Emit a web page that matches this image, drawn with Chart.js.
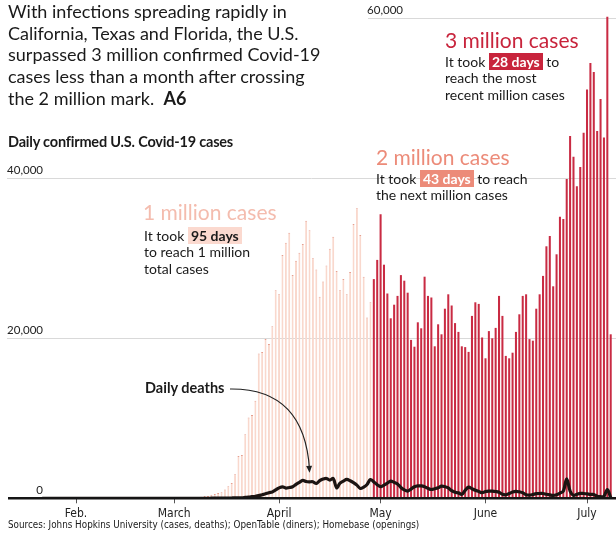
<!DOCTYPE html>
<html>
<head>
<meta charset="utf-8">
<script src="https://cdn.jsdelivr.net/npm/chart.js@4.4.1/dist/chart.umd.min.js"></script>
<style>
  body { margin: 0; background: #fff; font-family: Lato, 'Noto Sans', sans-serif; color: #1a1a1a; }
  #wrap { position: relative; width: 616px; height: 533px; overflow: hidden; }
  #chartBox { position: absolute; left: 0; top: 0; width: 616px; height: 533px; }
  .t { position: absolute; white-space: nowrap; z-index: 2; }
  .title { left: 8px; top: 1px; font-size: 18px; line-height: 21.7px; }
  .sub { left: 8px; top: 133px; font-size: 14.5px; line-height: 18px; font-weight: 700; letter-spacing: -0.2px; }
  .big { font-size: 21px; line-height: 22px; }
  .note { font-size: 14px; line-height: 16.4px; }
  .hl { font-weight: 700; padding: 0 3px; }
  .src { left: 8px; top: 518px; font-size: 11px; line-height: 14px; font-family: 'Liberation Sans Narrow', 'DejaVu Sans Condensed', sans-serif; transform: scaleX(0.89); transform-origin: left center; }
</style>
</head>
<body>
<div id="wrap">
  <div id="chartBox"><canvas id="chart"></canvas></div>

  <div class="t title">With infections spreading rapidly in<br>California, Texas and Florida, the U.S.<br>surpassed 3 million confirmed Covid-19<br>cases less than a month after crossing<br>the 2 million mark.&nbsp; <b>A6</b></div>
  <div class="t sub">Daily confirmed U.S. Covid-19 cases</div>

  <div class="t big" style="left:143px; top:201px; color:#f4bcae;">1 million cases</div>
  <div class="t note" style="left:144px; top:228px;">It took <span class="hl" style="background:#fbd9cf;">95 days</span><br>to reach 1 million<br>total cases</div>

  <div class="t big" style="left:376px; top:146px; color:#ec8b79;">2 million cases</div>
  <div class="t note" style="left:376px; top:171px;">It took <span class="hl" style="background:#ec8b79; color:#fff;">43 days</span> to reach<br>the next million cases</div>

  <div class="t big" style="left:445px; top:29px; color:#c8243c;">3 million cases</div>
  <div class="t note" style="left:445px; top:54px;">It took <span class="hl" style="background:#c8243c; color:#fff;">28 days</span> to<br>reach the most<br>recent million cases</div>

  <div class="t" style="left:145px; top:379px; font-size:14.5px; line-height:18px; font-weight:700;">Daily deaths</div>

  <div class="t src">Sources: Johns Hopkins University (cases, deaths); OpenTable (diners); Homebase (openings)</div>
</div>

<script>
// first day of data: Jan. 22, 2020
const startDay = Date.UTC(2020, 0, 22)

// daily confirmed cases, one array per month
const casesJan = [1, 0, 1, 0, 3, 0, 0, 0, 1, 1]
const casesFeb = [1, 0, 3, 0, 1, 0, 0, 0, 0, 1, 0, 1, 1, 0, 0, 0, 0, 0, 0, 1, 19, 0, 0, 0, 2, 1, 3, 0, 10]
const casesMar = [10, 24, 20, 30, 70, 60, 110, 120, 180, 300, 300, 450, 550, 650, 750, 1100,
  1500, 1900, 3000, 5300, 5400, 8000, 10100, 10400, 12200, 18100, 18300, 19900, 19300, 21500, 26000]
const casesApr = [25500, 30400, 31950, 33200, 27900, 29700, 30700, 31800, 34700, 33500, 30000, 28600,
  25200, 27100, 29100, 31200, 32700, 28400, 26000, 27400, 25500, 28300, 34300, 36250, 32900, 27700,
  22600, 24500, 27400, 29800]
const casesMay = [35500, 29200, 25600, 22500, 24200, 25300, 27900, 27200, 25700, 19800, 18950, 22000,
  21250, 27700, 25300, 25100, 19000, 21750, 20500, 23700, 25500, 24100, 21900, 20800, 19000, 18900,
  18300, 22800, 24500, 24300, 20100]
const casesJun = [17500, 20900, 20000, 21300, 25300, 22800, 17800, 17500, 18200, 20800, 23000, 25300,
  25500, 19900, 19700, 23700, 25500, 27800, 31500, 32800, 26500, 30500, 35200, 34900, 39900, 45300,
  42700, 39000, 41400, 45700]
const casesJul = [51100, 54400, 53300, 45900, 49900, 45100, 60200, 20500]

// daily deaths, same days
const deathsJan = [0, 0, 0, 0, 0, 0, 0, 0, 0, 0]
const deathsFeb = [0, 0, 0, 0, 0, 0, 0, 0, 0, 0, 0, 0, 0, 0, 0, 0, 0, 0, 0, 0, 0, 0, 0, 0, 0, 0, 0, 0, 1]
const deathsMar = [1, 5, 1, 4, 3, 2, 5, 4, 1, 5, 7, 10, 10, 10, 12, 18, 23, 40, 55, 60, 70, 110, 150,
  200, 250, 330, 450, 560, 700, 800, 1050]
const deathsApr = [1300, 1440, 1270, 1350, 1440, 1750, 2000, 2230, 2100, 2060, 2060, 1850, 2200, 2400,
  2480, 2270, 2480, 1310, 1900, 2150, 2360, 2200, 1950, 1650, 1230, 1400, 1730, 2350, 2050, 1700]
const deathsMay = [1450, 1650, 1900, 2150, 2000, 1800, 1350, 1050, 900, 1150, 1450, 1550, 1550, 1450,
  1250, 1100, 1200, 1320, 1520, 1450, 1300, 950, 750, 680, 500, 1000, 1400, 1200, 1000, 850, 700]
const deathsJun = [850, 900, 900, 850, 750, 500, 440, 600, 800, 870, 800, 690, 450, 400, 480, 580, 600,
  600, 500, 420, 360, 450, 650, 900, 2440, 900, 360, 500, 620, 600]
const deathsJul = [550, 480, 480, 250, 200, 250, 1100, 100]

// last day of the first million (bars after it are the 2nd and 3rd million)
const firstMillionEnd = '2020-04-28'
const monthNames = ['Jan.', 'Feb.', 'March', 'April', 'May', 'June', 'July']
const yTicks = [0, 20000, 40000, 60000]

const cases = [...casesJan, ...casesFeb, ...casesMar, ...casesApr, ...casesMay, ...casesJun, ...casesJul]
const deaths = [...deathsJan, ...deathsFeb, ...deathsMar, ...deathsApr, ...deathsMay, ...deathsJun, ...deathsJul]
const days = cases.map((_, i) => new Date(startDay + i * 86400000))
const labels = days.map(d => d.toISOString().slice(0, 10))

const pink = '#f9d8cd'
const pinkTop = '#e6a090'
const crimson = '#c92b43'

const isFirstMillion = i => labels[i] <= firstMillionEnd

// gridlines, y labels, axis line and the deaths arrow
const overlay = {
  id: 'overlay',
  beforeDatasetsDraw(chart) {
    const { ctx, scales: { y } } = chart
    ctx.save()
    ctx.strokeStyle = '#d9d9d9'
    ctx.lineWidth = 1
    ctx.font = '11.5px Lato'
    ctx.fillStyle = '#222'
    ctx.textAlign = 'right'
    ctx.textBaseline = 'middle'
    yTicks.forEach(v => {
      const py = Math.round(y.getPixelForValue(v)) + 0.5
      const top = v === 60000
      const from = top ? 368 : 7
      if (v > 0) {
        ctx.beginPath()
        ctx.moveTo(from, py)
        ctx.lineTo(616, py)
        ctx.stroke()
      }
      ctx.fillText(v.toLocaleString('en-US'), top ? 403 : 43, py - 8.5)
    })
    ctx.restore()
  },
  afterDatasetsDraw(chart) {
    const { ctx, scales: { x, y } } = chart
    ctx.save()
    const y0 = y.getPixelForValue(0)
    ctx.strokeStyle = '#151515'
    ctx.lineWidth = 2.4
    ctx.beginPath()
    ctx.moveTo(8, y0)
    ctx.lineTo(616, y0)
    ctx.stroke()

    // arrow from the label to the deaths line
    const target = labels.indexOf('2020-04-10')
    const ex = x.getPixelForValue(target)
    const ey = y.getPixelForValue(deaths[target]) - 9
    const sx = 230, sy = 389
    const cx = ex - 5, cy = 388
    ctx.strokeStyle = '#222'
    ctx.lineWidth = 1.2
    ctx.beginPath()
    ctx.moveTo(sx, sy)
    ctx.quadraticCurveTo(cx, cy, ex, ey - 3)
    ctx.stroke()
    const ang = Math.atan2(ey - cy, ex - cx)
    ctx.fillStyle = '#222'
    ctx.beginPath()
    ctx.moveTo(ex, ey)
    ctx.lineTo(ex - 7 * Math.cos(ang) + 3 * Math.sin(ang), ey - 7 * Math.sin(ang) - 3 * Math.cos(ang))
    ctx.lineTo(ex - 7 * Math.cos(ang) - 3 * Math.sin(ang), ey - 7 * Math.sin(ang) + 3 * Math.cos(ang))
    ctx.closePath()
    ctx.fill()
    ctx.restore()
  }
}

new Chart(document.getElementById('chart'), {
  type: 'bar',
  data: {
    labels: labels,
    datasets: [
      {
        type: 'line',
        label: 'Daily deaths',
        data: deaths,
        borderColor: '#1c1412',
        borderWidth: 3.2,
        pointRadius: 0,
        tension: 0.35,
        order: 0
      },
      {
        type: 'bar',
        label: 'Daily confirmed cases',
        data: cases,
        backgroundColor: c => isFirstMillion(c.dataIndex) ? pink : crimson,
        borderColor: c => isFirstMillion(c.dataIndex) ? pinkTop : crimson,
        borderWidth: c => isFirstMillion(c.dataIndex) ? { top: 1, left: 0, right: 0, bottom: 0 } : 0,
        barPercentage: 0.6,
        categoryPercentage: 1,
        clip: false,
        order: 1
      }
    ]
  },
  options: {
    responsive: true,
    maintainAspectRatio: false,
    animation: false,
    layout: { padding: { left: 40.5, right: 3.6, top: 18.3, bottom: 0 } },
    plugins: { legend: { display: false }, tooltip: { enabled: false } },
    scales: {
      x: {
        offset: true,
        border: { display: false },
        grid: { offset: false, drawOnChartArea: false, drawTicks: true, tickLength: 5, color: '#555' },
        ticks: {
          autoSkip: false,
          maxRotation: 0,
          minRotation: 0,
          padding: 3,
          color: '#222',
          font: { family: "'Liberation Sans Narrow', 'DejaVu Sans Condensed', sans-serif", size: 12 },
          callback: (v, i) => days[i].getUTCDate() === 1 ? monthNames[days[i].getUTCMonth()] : null
        },
        afterFit: s => { s.height = 34.7 }
      },
      y: { display: false, min: 0, max: 60000 }
    }
  },
  plugins: [overlay]
})
</script>
</body>
</html>
